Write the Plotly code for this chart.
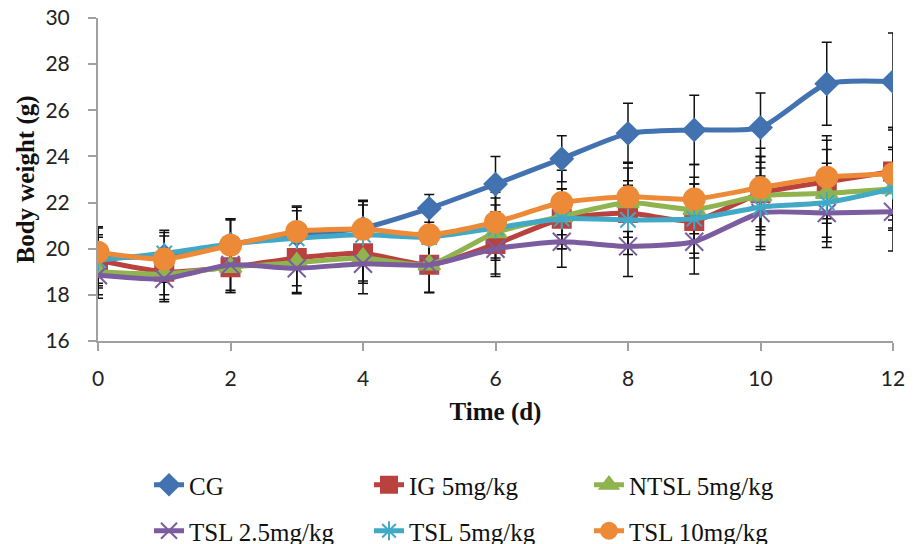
import plotly.graph_objects as go

days = list(range(13))

series_names = ["CG", "IG 5mg/kg", "NTSL 5mg/kg", "TSL 2.5mg/kg", "TSL 5mg/kg", "TSL 10mg/kg"]

cg = [19.6, 19.7, 20.2, 20.6, 20.9, 21.75, 22.8, 23.9, 25.0, 25.15, 25.25, 27.15, 27.25]
ig = [19.5, 19.0, 19.2, 19.6, 19.8, 19.3, 20.2, 21.3, 21.55, 21.2, 22.4, 22.9, 23.35]
ntsl = [19.0, 18.9, 19.2, 19.4, 19.6, 19.3, 20.7, 21.4, 22.0, 21.7, 22.3, 22.4, 22.6]
tsl25 = [18.85, 18.7, 19.3, 19.15, 19.35, 19.3, 20.0, 20.3, 20.1, 20.3, 21.55, 21.55, 21.6]
tsl5 = [19.5, 19.8, 20.2, 20.45, 20.6, 20.5, 20.9, 21.3, 21.25, 21.3, 21.8, 22.0, 22.6]
tsl10 = [19.85, 19.55, 20.15, 20.75, 20.85, 20.6, 21.15, 22.0, 22.25, 22.15, 22.65, 23.1, 23.25]

cg_err = [1.3, 1.0, 1.1, 1.2, 1.2, 0.6, 1.2, 1.0, 1.3, 1.5, 1.5, 1.8, 2.1]
ig_err = [1.1, 1.0, 1.1, 1.2, 1.2, 1.2, 1.3, 1.3, 1.4, 1.6, 1.6, 1.8, 1.9]
ntsl_err = [1.0, 1.1, 1.0, 1.3, 1.1, 1.2, 1.2, 1.2, 1.5, 1.4, 1.7, 1.9, 1.7]
tsl25_err = [1.0, 1.0, 1.2, 1.1, 1.3, 1.2, 1.2, 1.1, 1.3, 1.4, 1.6, 1.5, 1.7]
tsl5_err = [1.0, 1.0, 1.1, 1.2, 1.3, 1.3, 1.3, 1.3, 1.5, 1.5, 1.7, 1.7, 1.8]
tsl10_err = [1.1, 1.0, 1.1, 1.1, 1.2, 1.2, 1.3, 1.4, 1.5, 1.5, 1.7, 1.8, 2.0]

y_ticks = [16, 18, 20, 22, 24, 26, 28, 30]
x_ticks = [0, 2, 4, 6, 8, 10, 12]

values = [cg, ig, ntsl, tsl25, tsl5, tsl10]
errors = [cg_err, ig_err, ntsl_err, tsl25_err, tsl5_err, tsl10_err]
colors = ["#4272B0", "#B9423F", "#8FB34F", "#7B5C9F", "#41A9C6", "#EC8A38"]
symbols = ["diamond", "square", "triangle-up", "x-thin-open", "asterisk-open", "circle"]
sizes = [17, 18, 19, 18, 18, 21]
legend_ids = ["legend", "legend2", "legend3", "legend4", "legend5", "legend6"]

FIG_W, FIG_H = 915, 544

fig = go.Figure()

# error bars first (drawn beneath lines)
for v, e in zip(values, errors):
    fig.add_trace(go.Scatter(
        x=days, y=v, mode="markers", marker=dict(size=0.1, opacity=0),
        error_y=dict(type="data", array=e, visible=True, color="#111111", thickness=1.5, width=5),
        showlegend=False, hoverinfo="skip"))

for name, v, c, s, sz, lg in zip(series_names, values, colors, symbols, sizes, legend_ids):
    fig.add_trace(go.Scatter(
        x=days, y=v, name=name, mode="lines+markers",
        line=dict(color=c, width=5, shape="spline", smoothing=0.6),
        marker=dict(symbol=s, size=sz, color=c, line=dict(color=c, width=2)),
        legend=lg))

legend_font = dict(family="Liberation Serif", size=25, color="#111111")
# legend text left edges and row centres, in pixels
col_text_x = [190, 410, 630]
row_y = [485, 531]
legend_layout = {}
for i, lg in enumerate(legend_ids):
    col, row = i % 3, i // 3
    legend_layout[lg] = dict(
        orientation="h", xref="container", yref="container",
        x=(col_text_x[col] - 41) / FIG_W,
        y=1 - row_y[row] / FIG_H,
        xanchor="left", yanchor="middle",
        font=legend_font, bgcolor="rgba(0,0,0,0)")

fig.update_layout(
    width=FIG_W, height=FIG_H,
    margin=dict(l=98, r=22, t=18, b=203, autoexpand=False),
    plot_bgcolor="white", paper_bgcolor="white",
    xaxis=dict(range=[0, 12], tickvals=x_ticks, ticks="outside", ticklen=8, tickcolor="#A0A0A0",
               tickwidth=1.5, ticklabelstandoff=10, automargin=False, ticklabeloverflow="allow",
               showline=True, linecolor="#A0A0A0", linewidth=2, showgrid=False, zeroline=False,
               tickfont=dict(family="Lato", size=21, color="#222222"),
               title=dict(text="<b>Time (d)</b>", font=dict(family="Liberation Serif", size=25, color="#111111"), standoff=13)),
    yaxis=dict(range=[16, 30], tickvals=y_ticks, ticks="outside", ticklen=8, tickcolor="#A0A0A0",
               tickwidth=1.5, ticklabelstandoff=14, automargin=False, ticklabeloverflow="allow",
               showline=True, linecolor="#A0A0A0", linewidth=2, showgrid=False, zeroline=False,
               tickfont=dict(family="Lato", size=21, color="#222222"),
               title=dict(text="<b>Body weight (g)</b>", font=dict(family="Liberation Serif", size=25, color="#111111"), standoff=4)),
    **legend_layout,
)

fig.write_html("out.html", config={"displayModeBar": False},
               post_script="document.body.style.margin='0';")
